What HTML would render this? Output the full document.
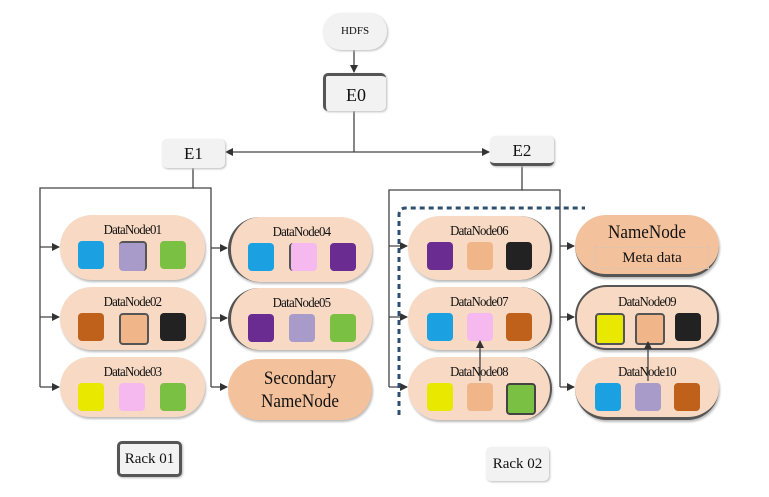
<!DOCTYPE html>
<html><head><meta charset="utf-8"><style>
body{margin:0;width:769px;height:497px;background:#fff;position:relative;overflow:hidden;font-family:"Liberation Serif",serif;color:#111}
.n{position:absolute;background:#f8d9c3;border-radius:32px;box-shadow:1px 2px 2px #bbb;box-sizing:border-box}
.t{position:absolute;left:0;right:0;text-align:center;font-size:14px;top:8px;letter-spacing:-0.8px;transform:scaleX(0.92)}
.s{position:absolute;width:26px;height:28px;border-radius:4px;top:26px}
.b{position:absolute;background:#f2f2f2;border-radius:5px;box-shadow:1px 1px 2px #bbb;text-align:center;box-sizing:border-box}
svg{position:absolute;left:0;top:0}
</style></head><body>
<svg width="769" height="497">
<defs><marker id="a" markerWidth="8" markerHeight="8" refX="7" refY="4" orient="auto" markerUnits="userSpaceOnUse"><path d="M0,0L8,4L0,8z" fill="#333"/></marker></defs>
<g stroke="#444" stroke-width="1.3" fill="none">
<path d="M354 50V72" marker-end="url(#a)"/>
<path d="M354 111V152"/>
<path d="M354 152H226" marker-end="url(#a)"/>
<path d="M354 152H489" marker-end="url(#a)"/>
<path d="M193 168V188H40V387"/>
<path d="M193 188H211V387"/>
<path d="M40 247H59" marker-end="url(#a)"/><path d="M40 317H59" marker-end="url(#a)"/><path d="M40 387H59" marker-end="url(#a)"/>
<path d="M211 248H227" marker-end="url(#a)"/><path d="M211 318H227" marker-end="url(#a)"/><path d="M211 387H227" marker-end="url(#a)"/>
<path d="M522 166V190H389V387"/>
<path d="M522 190H560V387"/>
<path d="M389 246H407" marker-end="url(#a)"/><path d="M389 317H407" marker-end="url(#a)"/><path d="M389 387H407" marker-end="url(#a)"/>
<path d="M560 246H574" marker-end="url(#a)"/><path d="M560 317H574" marker-end="url(#a)"/><path d="M560 387H574" marker-end="url(#a)"/>
</g>
</svg>
<div class="b" style="left:323px;top:13px;width:64px;height:37px;border-radius:18px;font-size:11px;line-height:37px">HDFS</div>
<div class="b" style="left:323px;top:73px;width:63px;height:38px;font-size:18px;line-height:38px;border-top:3px solid #555;border-left:3px solid #555;border-right:0;border-bottom:0">E0</div>
<div class="b" style="left:162px;top:139px;width:63px;height:29px;font-size:17px;line-height:29px">E1</div>
<div class="b" style="left:490px;top:136px;width:64px;height:30px;font-size:17px;line-height:30px;border-bottom:3px solid #555">E2</div>

<div class="n" style="left:60px;top:215px;width:145px;height:65px"><div class="t">DataNode01</div><div class="s" style="left:18px;background:#1ba1e2"></div><div class="s" style="left:59px;background:#a99bc9;border-top:2px solid #555;border-right:2px solid #555"></div><div class="s" style="left:100px;background:#7ac143"></div></div>
<div class="n" style="left:60px;top:287px;width:145px;height:63px"><div class="t">DataNode02</div><div class="s" style="left:18px;background:#c0611b"></div><div class="s" style="left:59px;background:#f0b68a;border:2px solid #555"></div><div class="s" style="left:100px;background:#222"></div></div>
<div class="n" style="left:60px;top:357px;width:145px;height:60px"><div class="t">DataNode03</div><div class="s" style="left:18px;background:#e8e800"></div><div class="s" style="left:59px;background:#f5b9ef"></div><div class="s" style="left:100px;background:#7ac143"></div></div>

<div class="n" style="left:228px;top:217px;width:144px;height:65px;border-left:3px solid #555"><div class="t">DataNode04</div><div class="s" style="left:17px;background:#1ba1e2"></div><div class="s" style="left:58px;background:#f5b9ef;border-left:2px solid #555"></div><div class="s" style="left:99px;background:#6a2c91"></div></div>
<div class="n" style="left:228px;top:288px;width:144px;height:62px;border-left:3px solid #555"><div class="t">DataNode05</div><div class="s" style="left:17px;background:#6a2c91"></div><div class="s" style="left:58px;background:#a99bc9"></div><div class="s" style="left:99px;background:#7ac143"></div></div>
<div class="n" style="left:228px;top:359px;width:144px;height:61px;background:#f3c29c"><div style="text-align:center;font-size:19px;line-height:23px;padding-top:8px;transform:scaleX(0.9)">Secondary<br>NameNode</div></div>

<div class="n" style="left:408px;top:216px;width:144px;height:64px;border-right:2px solid #555"><div class="t">DataNode06</div><div class="s" style="left:19px;background:#6a2c91"></div><div class="s" style="left:59px;background:#f0b68a"></div><div class="s" style="left:98px;background:#222"></div></div>
<div class="n" style="left:408px;top:287px;width:144px;height:63px;border-right:2px solid #555"><div class="t">DataNode07</div><div class="s" style="left:19px;background:#1ba1e2"></div><div class="s" style="left:59px;background:#f5b9ef"></div><div class="s" style="left:98px;background:#c0611b"></div></div>
<div class="n" style="left:408px;top:357px;width:144px;height:63px;border-right:2px solid #555"><div class="t">DataNode08</div><div class="s" style="left:19px;background:#e8e800"></div><div class="s" style="left:59px;background:#f0b68a"></div><div class="s" style="left:98px;background:#7ac143;border:2px solid #444"></div></div>

<div class="n" style="left:575px;top:215px;width:144px;height:62px;background:#f3c29c;border-bottom:3px solid #555"><div style="text-align:center;font-size:19px;padding-top:7px;transform:scaleX(0.9)">NameNode</div><div style="position:absolute;left:20px;right:10px;top:32px;height:20px;border:1px dashed #d8c4b4;text-align:center;font-size:15px;line-height:20px">Meta data</div></div>
<div class="n" style="left:575px;top:285px;width:144px;height:65px;border:2px solid #555"><div class="t">DataNode09</div><div class="s" style="left:18px;background:#e8e800;border:2px solid #555"></div><div class="s" style="left:58px;background:#f0b68a;border:2px solid #555"></div><div class="s" style="left:98px;background:#222"></div></div>
<div class="n" style="left:575px;top:357px;width:144px;height:63px;border-bottom:3px solid #555"><div class="t">DataNode10</div><div class="s" style="left:20px;background:#1ba1e2"></div><div class="s" style="left:60px;background:#a99bc9"></div><div class="s" style="left:99px;background:#c0611b"></div></div>

<svg width="769" height="497">
<defs><marker id="b" markerWidth="8" markerHeight="8" refX="7" refY="4" orient="auto" markerUnits="userSpaceOnUse"><path d="M0,0L8,4L0,8z" fill="#333"/></marker></defs>
<g stroke="#444" stroke-width="1.3" fill="none">
<path d="M480 381V341" marker-end="url(#b)"/>
<path d="M648 381V342" marker-end="url(#b)"/>
</g>
<path d="M399 415V215Q399 208 406 208H585" stroke="#2e4f70" stroke-width="3" stroke-dasharray="5,4" fill="none"/>
</svg>

<div class="b" style="left:117px;top:441px;width:65px;height:36px;border:3px solid #555;font-size:15px;line-height:30px">Rack 01</div>
<div class="b" style="left:486px;top:447px;width:63px;height:34px;font-size:15px;line-height:34px">Rack 02</div>
</body></html>
